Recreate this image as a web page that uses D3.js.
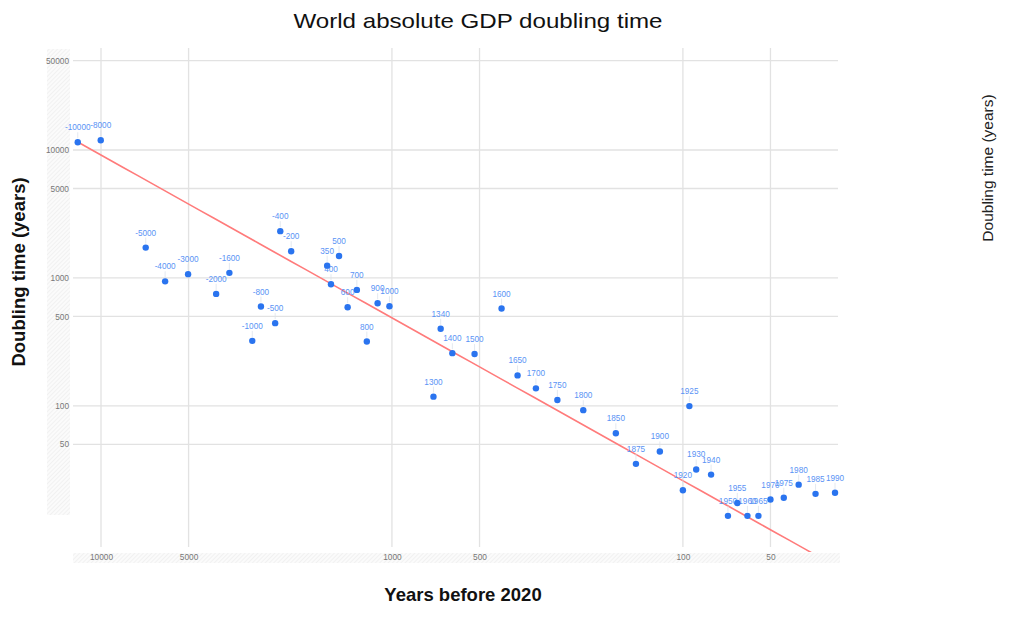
<!DOCTYPE html>
<html>
<head>
<meta charset="utf-8">
<script src="https://cdn.jsdelivr.net/npm/d3@7"></script>
<style>
  html, body { margin: 0; padding: 0; background: #fff; }
  svg { display: block; font-family: "Liberation Sans", Arial, sans-serif; }
</style>
</head>
<body>
<svg id="chart" width="1016" height="637"></svg>
<script>
const baseYear = 2020;
const years = [-10000,-8000,-5000,-4000,-3000,-2000,-1600,-1000,-800,-500,-400,-200,
  350,400,500,600,700,800,900,1000,1300,1340,1400,1500,1600,1650,1700,1750,1800,
  1850,1875,1900,1920,1925,1930,1940,1950,1955,1960,1965,1970,1975,1980,1985,1990];
const doubling = [11500,11900,1725,940,1070,750,1095,322,597,443,2320,1617,
  1247,893,1485,590,806,318,634,601,118,400,258,254,576,173,137,111,92.5,
  61,35.2,44,21.9,99.5,31.8,29,13.8,17.4,13.8,13.8,18.5,19.1,24.2,20.5,20.9];
// power trendline: doubling = coef * yearsBefore ^ exponent
const trendCoef = [0.0739];
const trendExponent = [1.273];
const xTicks = [10000,5000,1000,500,100,50];
const yTicks = [50000,10000,5000,1000,500,100,50];
const xDomain = [12285, 29.3];
const yDomain = [7.2, 62700];

const svg = d3.select("#chart");
const plot = {left: 75, right: 838, top: 48, bottom: 552};

const x = d3.scaleLog().domain(xDomain).range([plot.left, plot.right]);
const y = d3.scaleLog().domain(yDomain).range([plot.bottom, plot.top]);

// hatch pattern
const defs = svg.append("defs");
const pat = defs.append("pattern").attr("id","hatch").attr("patternUnits","userSpaceOnUse")
  .attr("width",3).attr("height",3).attr("patternTransform","rotate(45)");
pat.append("rect").attr("width",3).attr("height",3).attr("fill","#fbfbfb");
pat.append("line").attr("x1",0).attr("y1",0).attr("x2",0).attr("y2",3)
  .attr("stroke","#ececec").attr("stroke-width",1.3);
defs.append("clipPath").attr("id","clip").append("rect")
  .attr("x",plot.left).attr("y",plot.top).attr("width",plot.right-plot.left).attr("height",plot.bottom-plot.top);

svg.append("rect").attr("x",47).attr("y",49).attr("width",23).attr("height",466).attr("fill","url(#hatch)");
svg.append("rect").attr("x",73).attr("y",553).attr("width",767).attr("height",10).attr("fill","url(#hatch)");

// gridlines
const grid = svg.append("g");
grid.selectAll("line.h").data(yTicks).join("line").attr("class","h")
  .attr("x1",73).attr("x2",plot.right).attr("y1",d=>y(d)).attr("y2",d=>y(d))
  .attr("stroke","#e2e2e2").attr("stroke-width",1.3);
grid.selectAll("line.v").data(xTicks).join("line").attr("class","v")
  .attr("x1",d=>x(d)).attr("x2",d=>x(d)).attr("y1",plot.top).attr("y2",547)
  .attr("stroke","#e2e2e2").attr("stroke-width",1.3);

// axes via d3 axis
const yAxis = d3.axisLeft(y).tickValues(yTicks).tickFormat(d3.format("d")).tickSize(0).tickPadding(0);
const gy = svg.append("g").attr("transform","translate(69,0)").call(yAxis);
gy.select(".domain").remove();
gy.selectAll("text").attr("font-size",8.3).attr("fill","#777").attr("font-family","Liberation Sans, Arial, sans-serif");

const xAxis = d3.axisBottom(x).tickValues(xTicks).tickFormat(d3.format("d")).tickSize(0).tickPadding(0);
const gx = svg.append("g").attr("transform","translate(0,554)").call(xAxis);
gx.select(".domain").remove();
gx.selectAll("text").attr("font-size",8.3).attr("fill","#777").attr("font-family","Liberation Sans, Arial, sans-serif");

// trendline
const data = years.map((yr,i)=>({year: yr, before: baseYear - yr, dbl: doubling[i]}));
const xExt = d3.extent(data, d=>d.before);
const trendPts = d3.range(0,51).map(i=>{
  const lv = Math.log10(xExt[1]) + (Math.log10(xExt[0])-Math.log10(xExt[1]))*i/50;
  const xv = Math.pow(10,lv);
  return [xv, trendCoef[0]*Math.pow(xv, trendExponent[0])];
});
svg.append("path").attr("clip-path","url(#clip)")
  .attr("d", d3.line().x(d=>x(d[0])).y(d=>y(d[1]))(trendPts))
  .attr("fill","none").attr("stroke","#ff7b7b").attr("stroke-width",1.6);

// leader lines
svg.append("g").selectAll("line").data(data).join("line")
  .attr("x1",d=>x(d.before)).attr("x2",d=>x(d.before))
  .attr("y1",d=>y(d.dbl)-10).attr("y2",d=>y(d.dbl)-4)
  .attr("stroke","#dde3ec").attr("stroke-width",0.8);

// labels
svg.append("g").selectAll("text").data(data).join("text")
  .attr("x",d=>x(d.before)).attr("y",d=>y(d.dbl)-12)
  .attr("text-anchor","middle").attr("font-size",8.2).attr("fill","#5a93f5")
  .text(d=>String(d.year));

// points
svg.append("g").selectAll("circle").data(data).join("circle")
  .attr("cx",d=>x(d.before)).attr("cy",d=>y(d.dbl)).attr("r",3.2)
  .attr("fill","#2a74ef");

// titles
svg.append("text").attr("x",478).attr("y",28).attr("text-anchor","middle")
  .attr("font-size",21).attr("fill","#111").attr("textLength",369).attr("lengthAdjust","spacingAndGlyphs")
  .text("World absolute GDP doubling time");
svg.append("text").attr("x",463).attr("y",601).attr("text-anchor","middle")
  .attr("font-size",18.5).attr("font-weight","bold").attr("fill","#111")
  .text("Years before 2020");
svg.append("text").attr("transform","translate(25,272) rotate(-90)").attr("text-anchor","middle")
  .attr("font-size",18.5).attr("font-weight","bold").attr("fill","#111")
  .text("Doubling time (years)");
svg.append("text").attr("transform","translate(993,168) rotate(-90)").attr("text-anchor","middle")
  .attr("font-size",15.5).attr("fill","#222")
  .text("Doubling time (years)");
</script>
</body>
</html>
